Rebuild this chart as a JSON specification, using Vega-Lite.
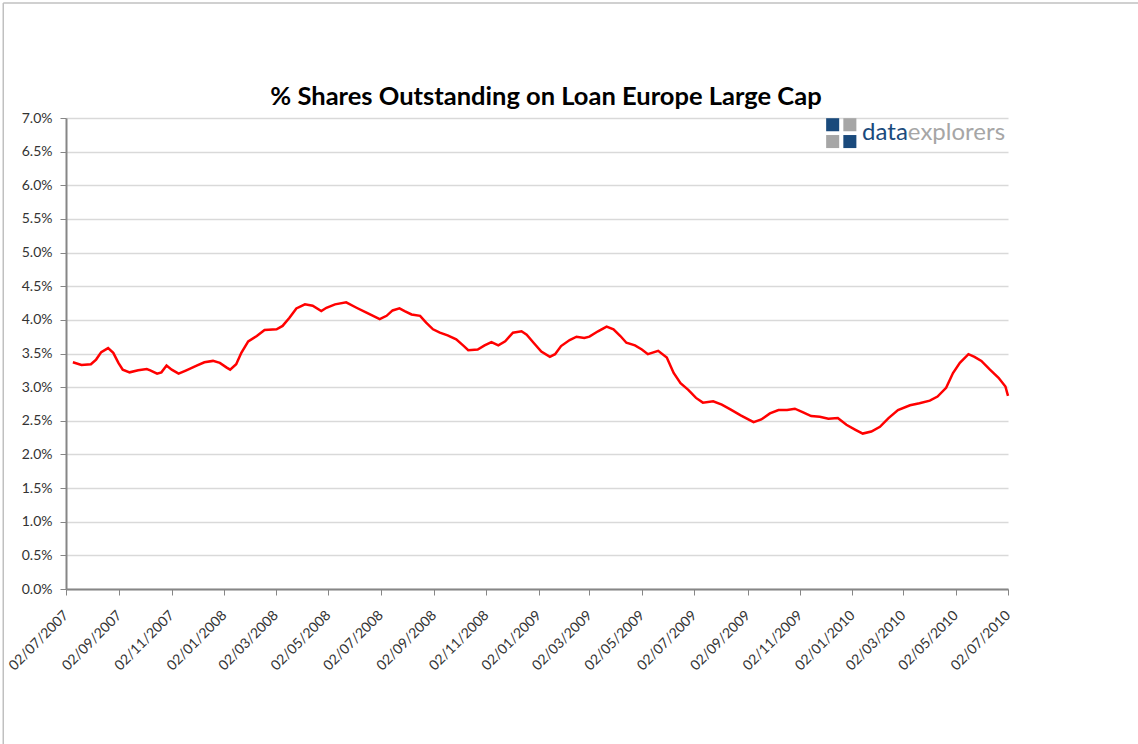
{
  "$schema": "https://vega.github.io/schema/vega-lite/v6.json",
  "autosize": {"type": "none"},
  "padding": {"left": 66, "top": 118, "right": 130, "bottom": 155},
  "width": 942,
  "height": 471,
  "background": "white",
  "config": {
    "view": {"stroke": null},
    "font": "Lato"
  },
  "title": {
    "text": "% Shares Outstanding on Loan Europe Large Cap",
    "font": "Lato",
    "fontSize": 25.5,
    "fontWeight": "bold",
    "color": "#000000",
    "anchor": "middle",
    "frame": "group",
    "dx": 9,
    "offset": -108
  },
  "datasets": {
    "series": [
      {"date": "2007-07-10T00:00:00", "v": 0.0337},
      {"date": "2007-07-20T00:00:00", "v": 0.0333},
      {"date": "2007-07-31T00:00:00", "v": 0.0334},
      {"date": "2007-08-06T00:00:00", "v": 0.0341},
      {"date": "2007-08-12T00:00:00", "v": 0.0352},
      {"date": "2007-08-20T00:00:00", "v": 0.0358},
      {"date": "2007-08-26T00:00:00", "v": 0.0351},
      {"date": "2007-09-01T00:00:00", "v": 0.0336},
      {"date": "2007-09-06T00:00:00", "v": 0.0326},
      {"date": "2007-09-14T00:00:00", "v": 0.0322},
      {"date": "2007-09-24T00:00:00", "v": 0.0325},
      {"date": "2007-10-04T00:00:00", "v": 0.0327},
      {"date": "2007-10-08T00:00:00", "v": 0.0325},
      {"date": "2007-10-16T00:00:00", "v": 0.0320},
      {"date": "2007-10-21T00:00:00", "v": 0.0322},
      {"date": "2007-10-27T00:00:00", "v": 0.0332},
      {"date": "2007-11-02T00:00:00", "v": 0.0326},
      {"date": "2007-11-10T00:00:00", "v": 0.0320},
      {"date": "2007-11-19T00:00:00", "v": 0.0325},
      {"date": "2007-12-01T00:00:00", "v": 0.0332},
      {"date": "2007-12-10T00:00:00", "v": 0.0337},
      {"date": "2007-12-20T00:00:00", "v": 0.0339},
      {"date": "2007-12-28T00:00:00", "v": 0.0336},
      {"date": "2008-01-05T00:00:00", "v": 0.0329},
      {"date": "2008-01-09T00:00:00", "v": 0.0326},
      {"date": "2008-01-16T00:00:00", "v": 0.0334},
      {"date": "2008-01-22T00:00:00", "v": 0.0351},
      {"date": "2008-01-30T00:00:00", "v": 0.0368},
      {"date": "2008-02-09T00:00:00", "v": 0.0376},
      {"date": "2008-02-18T00:00:00", "v": 0.0385},
      {"date": "2008-03-03T00:00:00", "v": 0.0386},
      {"date": "2008-03-10T00:00:00", "v": 0.0391},
      {"date": "2008-03-18T00:00:00", "v": 0.0403},
      {"date": "2008-03-26T00:00:00", "v": 0.0417},
      {"date": "2008-04-05T00:00:00", "v": 0.0423},
      {"date": "2008-04-14T00:00:00", "v": 0.0421},
      {"date": "2008-04-24T00:00:00", "v": 0.0413},
      {"date": "2008-04-30T00:00:00", "v": 0.0418},
      {"date": "2008-05-10T00:00:00", "v": 0.0423},
      {"date": "2008-05-23T00:00:00", "v": 0.0426},
      {"date": "2008-06-04T00:00:00", "v": 0.0418},
      {"date": "2008-06-15T00:00:00", "v": 0.0411},
      {"date": "2008-07-01T00:00:00", "v": 0.0401},
      {"date": "2008-07-09T00:00:00", "v": 0.0406},
      {"date": "2008-07-16T00:00:00", "v": 0.0414},
      {"date": "2008-07-24T00:00:00", "v": 0.0417},
      {"date": "2008-07-30T00:00:00", "v": 0.0413},
      {"date": "2008-08-07T00:00:00", "v": 0.0408},
      {"date": "2008-08-17T00:00:00", "v": 0.0406},
      {"date": "2008-08-24T00:00:00", "v": 0.0396},
      {"date": "2008-09-01T00:00:00", "v": 0.0386},
      {"date": "2008-09-09T00:00:00", "v": 0.0381},
      {"date": "2008-09-18T00:00:00", "v": 0.0377},
      {"date": "2008-09-28T00:00:00", "v": 0.0371},
      {"date": "2008-10-06T00:00:00", "v": 0.0362},
      {"date": "2008-10-12T00:00:00", "v": 0.0355},
      {"date": "2008-10-23T00:00:00", "v": 0.0356},
      {"date": "2008-10-31T00:00:00", "v": 0.0362},
      {"date": "2008-11-08T00:00:00", "v": 0.0367},
      {"date": "2008-11-16T00:00:00", "v": 0.0362},
      {"date": "2008-11-24T00:00:00", "v": 0.0368},
      {"date": "2008-12-03T00:00:00", "v": 0.0381},
      {"date": "2008-12-13T00:00:00", "v": 0.0383},
      {"date": "2008-12-19T00:00:00", "v": 0.0378},
      {"date": "2008-12-27T00:00:00", "v": 0.0366},
      {"date": "2009-01-05T00:00:00", "v": 0.0353},
      {"date": "2009-01-15T00:00:00", "v": 0.0345},
      {"date": "2009-01-21T00:00:00", "v": 0.0349},
      {"date": "2009-01-28T00:00:00", "v": 0.0361},
      {"date": "2009-02-07T00:00:00", "v": 0.0370},
      {"date": "2009-02-15T00:00:00", "v": 0.0375},
      {"date": "2009-02-24T00:00:00", "v": 0.0373},
      {"date": "2009-03-02T00:00:00", "v": 0.0375},
      {"date": "2009-03-12T00:00:00", "v": 0.0383},
      {"date": "2009-03-22T00:00:00", "v": 0.0390},
      {"date": "2009-03-30T00:00:00", "v": 0.0386},
      {"date": "2009-04-07T00:00:00", "v": 0.0376},
      {"date": "2009-04-14T00:00:00", "v": 0.0366},
      {"date": "2009-04-24T00:00:00", "v": 0.0362},
      {"date": "2009-05-02T00:00:00", "v": 0.0356},
      {"date": "2009-05-09T00:00:00", "v": 0.0349},
      {"date": "2009-05-21T00:00:00", "v": 0.0354},
      {"date": "2009-05-31T00:00:00", "v": 0.0344},
      {"date": "2009-06-08T00:00:00", "v": 0.0321},
      {"date": "2009-06-16T00:00:00", "v": 0.0306},
      {"date": "2009-06-25T00:00:00", "v": 0.0296},
      {"date": "2009-07-04T00:00:00", "v": 0.0284},
      {"date": "2009-07-12T00:00:00", "v": 0.0277},
      {"date": "2009-07-24T00:00:00", "v": 0.0279},
      {"date": "2009-08-03T00:00:00", "v": 0.0274},
      {"date": "2009-08-13T00:00:00", "v": 0.0267},
      {"date": "2009-08-25T00:00:00", "v": 0.0258},
      {"date": "2009-09-09T00:00:00", "v": 0.0248},
      {"date": "2009-09-18T00:00:00", "v": 0.0252},
      {"date": "2009-09-28T00:00:00", "v": 0.0261},
      {"date": "2009-10-08T00:00:00", "v": 0.0266},
      {"date": "2009-10-18T00:00:00", "v": 0.0266},
      {"date": "2009-10-27T00:00:00", "v": 0.0268},
      {"date": "2009-11-05T00:00:00", "v": 0.0263},
      {"date": "2009-11-15T00:00:00", "v": 0.0257},
      {"date": "2009-11-25T00:00:00", "v": 0.0256},
      {"date": "2009-12-05T00:00:00", "v": 0.0253},
      {"date": "2009-12-16T00:00:00", "v": 0.0254},
      {"date": "2009-12-26T00:00:00", "v": 0.0244},
      {"date": "2010-01-05T00:00:00", "v": 0.0237},
      {"date": "2010-01-14T00:00:00", "v": 0.0231},
      {"date": "2010-01-24T00:00:00", "v": 0.0234},
      {"date": "2010-02-03T00:00:00", "v": 0.0241},
      {"date": "2010-02-13T00:00:00", "v": 0.0254},
      {"date": "2010-02-24T00:00:00", "v": 0.0266},
      {"date": "2010-03-10T00:00:00", "v": 0.0273},
      {"date": "2010-03-21T00:00:00", "v": 0.0276},
      {"date": "2010-04-02T00:00:00", "v": 0.0280},
      {"date": "2010-04-11T00:00:00", "v": 0.0286},
      {"date": "2010-04-21T00:00:00", "v": 0.0299},
      {"date": "2010-04-29T00:00:00", "v": 0.0321},
      {"date": "2010-05-07T00:00:00", "v": 0.0336},
      {"date": "2010-05-17T00:00:00", "v": 0.0349},
      {"date": "2010-05-24T00:00:00", "v": 0.0345},
      {"date": "2010-06-01T00:00:00", "v": 0.0339},
      {"date": "2010-06-11T00:00:00", "v": 0.0326},
      {"date": "2010-06-21T00:00:00", "v": 0.0314},
      {"date": "2010-06-29T00:00:00", "v": 0.0301},
      {"date": "2010-07-02T00:00:00", "v": 0.0287}
    ],
    "logoNavy": [
      {"date": "2009-12-10T00:00:00", "v": 0.0690},
      {"date": "2009-12-30T00:00:00", "v": 0.0665}
    ],
    "logoGrey": [
      {"date": "2009-12-30T00:00:00", "v": 0.0690},
      {"date": "2009-12-10T00:00:00", "v": 0.0665}
    ],
    "logoText": [
      {"date": "2010-03-07T12:00:00", "v": 0.06677, "a": "data", "b": "explorers"}
    ],
    "frame": [
      {"x1": "2007-04-20T00:00:00", "x2": "2010-12-10T00:00:00", "ytop": 0.0871, "ybot": -0.0235}
    ]
  },
  "encoding": {
    "x": {
      "field": "date",
      "type": "temporal",
      "scale": {"domain": [{"year": 2007, "month": 7, "date": 2}, {"year": 2010, "month": 7, "date": 2}], "nice": false},
      "axis": {
        "title": null,
        "values": [
          {"year": 2007, "month": 7, "date": 2},
          {"year": 2007, "month": 9, "date": 2},
          {"year": 2007, "month": 11, "date": 2},
          {"year": 2008, "month": 1, "date": 2},
          {"year": 2008, "month": 3, "date": 2},
          {"year": 2008, "month": 5, "date": 2},
          {"year": 2008, "month": 7, "date": 2},
          {"year": 2008, "month": 9, "date": 2},
          {"year": 2008, "month": 11, "date": 2},
          {"year": 2009, "month": 1, "date": 2},
          {"year": 2009, "month": 3, "date": 2},
          {"year": 2009, "month": 5, "date": 2},
          {"year": 2009, "month": 7, "date": 2},
          {"year": 2009, "month": 9, "date": 2},
          {"year": 2009, "month": 11, "date": 2},
          {"year": 2010, "month": 1, "date": 2},
          {"year": 2010, "month": 3, "date": 2},
          {"year": 2010, "month": 5, "date": 2},
          {"year": 2010, "month": 7, "date": 2}
        ],
        "format": "%d/%m/%Y",
        "labelAngle": -45,
        "labelAlign": "right",
        "labelBaseline": "middle",
        "labelFontSize": 14,
        "labelColor": "#333333",
        "labelPadding": 18,
        "labelOverlap": false,
        "labelFlush": false,
        "grid": false,
        "domainColor": "#868686",
        "domainWidth": 2,
        "tickColor": "#868686",
        "tickSize": 6,
        "tickWidth": 1
      }
    },
    "y": {
      "field": "v",
      "type": "quantitative",
      "scale": {"domain": [0, 0.07], "nice": false},
      "axis": {
        "title": null,
        "values": [0, 0.005, 0.01, 0.015, 0.02, 0.025, 0.03, 0.035, 0.04, 0.045, 0.05, 0.055, 0.06, 0.065, 0.07],
        "format": ".1%",
        "labelFontSize": 14,
        "labelColor": "#333333",
        "labelPadding": 8,
        "labelFlush": false,
        "labelOverlap": false,
        "grid": true,
        "gridColor": "#d9d9d9",
        "gridWidth": 1.3,
        "domainColor": "#868686",
        "domainWidth": 2,
        "tickColor": "#868686",
        "tickSize": 6,
        "tickWidth": 1
      }
    }
  },
  "layer": [
    {
      "data": {"name": "frame"},
      "mark": {"type": "rule", "color": "#c0c0c0", "strokeWidth": 1.5, "clip": false},
      "encoding": {
        "x": {"field": "x1", "type": "temporal"},
        "y": {"field": "ytop", "type": "quantitative"},
        "y2": {"field": "ybot"}
      }
    },
    {
      "data": {"name": "frame"},
      "mark": {"type": "rule", "color": "#c0c0c0", "strokeWidth": 1.5, "clip": false},
      "encoding": {
        "x": {"field": "x1", "type": "temporal"},
        "x2": {"field": "x2"},
        "y": {"field": "ytop", "type": "quantitative"}
      }
    },
    {
      "data": {"name": "series"},
      "mark": {"type": "line", "color": "#ff0000", "strokeWidth": 2.5, "interpolate": "linear"}
    },
    {
      "data": {"name": "logoNavy"},
      "mark": {"type": "point", "shape": "square", "filled": true, "color": "#1a4a7c", "size": 170, "opacity": 1}
    },
    {
      "data": {"name": "logoGrey"},
      "mark": {"type": "point", "shape": "square", "filled": true, "color": "#a6a6a6", "size": 170, "opacity": 1}
    },
    {
      "data": {"name": "logoText"},
      "mark": {"type": "text", "align": "right", "baseline": "alphabetic", "font": "Lato", "fontSize": 24, "color": "#1a4a7c"},
      "encoding": {"text": {"field": "a"}}
    },
    {
      "data": {"name": "logoText"},
      "mark": {"type": "text", "align": "left", "baseline": "alphabetic", "font": "Lato", "fontSize": 24, "color": "#a6a6a6"},
      "encoding": {"text": {"field": "b"}}
    }
  ]
}
